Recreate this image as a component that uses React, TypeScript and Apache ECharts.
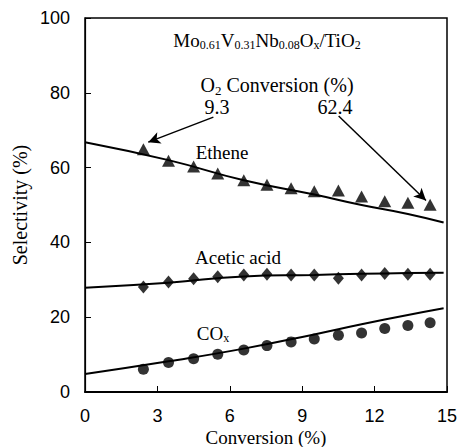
import React, { useEffect, useRef } from "react";
import * as echarts from "echarts";

const convX = [2.42, 3.46, 4.5, 5.5, 6.58, 7.54, 8.54, 9.5, 10.5, 11.46, 12.42, 13.38, 14.3];
const etheneVals = [64.9, 61.8, 60.3, 58.4, 56.6, 55.4, 54.5, 53.7, 53.9, 52.3, 51.0, 50.6, 50.1];
const aceticVals = [28.1, 29.4, 30.3, 30.8, 31.3, 31.5, 31.3, 31.3, 30.4, 31.3, 31.7, 31.5, 31.5];
const coxVals = [6.1, 7.9, 8.9, 10.1, 11.2, 12.4, 13.4, 14.2, 15.2, 15.8, 17.0, 17.8, 18.5];

const fitX = [0, 3.46, 6.58, 9.5, 11.46, 13.38, 14.86];
const etheneFit = [66.8, 62.0, 56.6, 52.8, 50.0, 47.6, 45.3];
const aceticFit = [27.9, 29.2, 30.9, 31.3, 31.6, 31.8, 31.9];
const coxFit = [4.8, 8.2, 11.6, 15.4, 18.1, 20.6, 22.4];

const arrow1 = [[5.32, 73.5], [2.62, 66.8]];
const arrow2 = [[10.51, 73.8], [14.13, 51.2]];

const SERIF = "'Liberation Serif', 'Times New Roman', serif";
const SANS = "'Liberation Sans', Arial, sans-serif";

const zip = (xs: number[], ys: number[]) => xs.map((x, i) => [x, ys[i]]);

export default function App() {
  const ref = useRef<HTMLDivElement>(null);
  useEffect(() => {
    if (!ref.current) return;
    const chart = echarts.init(ref.current, null, { renderer: "svg" });
    const mkRich = (size: number) => ({
      n: { fontFamily: SERIF, fontSize: size, color: "#000" },
      s: { fontFamily: SERIF, fontSize: Math.round(size * 0.65), color: "#000", padding: [Math.round(size * 0.5), 0, 0, 0] },
    });
    const txt = (x: number, y: number, text: string, size = 19) => ({
      type: "text",
      x,
      y,
      style: {
        text,
        fontFamily: SERIF,
        fontSize: size,
        fill: "#000",
        align: "center",
        verticalAlign: "middle",
        rich: mkRich(size),
      },
    });
    chart.setOption({
      animation: false,
      grid: {
        left: 85,
        right: 11,
        top: 18,
        bottom: 55,
        show: true,
        borderColor: "#000",
        borderWidth: 1.5,
        backgroundColor: "transparent",
        containLabel: false,
        outerBoundsMode: "none",
      },
      xAxis: {
        type: "value",
        min: 0,
        max: 15,
        interval: 3,
        name: "Conversion (%)",
        nameLocation: "middle",
        nameGap: 36,
        nameMoveOverlap: false,
        nameTextStyle: { fontFamily: SERIF, fontSize: 19, color: "#000" },
        axisLine: { lineStyle: { color: "#000", width: 1.8 } },
        axisTick: { inside: true, length: 6, lineStyle: { color: "#000" } },
        axisLabel: { fontFamily: SANS, fontSize: 18, color: "#000", margin: 15 },
        splitLine: { show: false },
      },
      yAxis: {
        type: "value",
        min: 0,
        max: 100,
        interval: 20,
        name: "Selectivity (%)",
        nameLocation: "middle",
        nameGap: 55,
        nameMoveOverlap: false,
        nameTextStyle: { fontFamily: SERIF, fontSize: 20, color: "#000" },
        axisLine: { show: true, lineStyle: { color: "#000", width: 1.2 } },
        axisTick: { show: true, inside: true, length: 6, lineStyle: { color: "#000" } },
        axisLabel: { fontFamily: SANS, fontSize: 18, color: "#000", margin: 15 },
        splitLine: { show: false },
      },
      series: [
        {
          type: "line",
          data: zip(fitX, etheneFit),
          smooth: true,
          showSymbol: false,
          lineStyle: { color: "#000", width: 2 },
          markLine: {
            silent: true,
            symbol: ["none", "arrow"],
            symbolSize: [9, 12],
            label: { show: false },
            lineStyle: { color: "#000", width: 1.5, type: "solid" },
            data: [
              [{ coord: arrow1[0] }, { coord: arrow1[1] }],
              [{ coord: arrow2[0] }, { coord: arrow2[1] }],
            ],
          },
        },
        {
          type: "line",
          data: zip(fitX, aceticFit),
          smooth: true,
          showSymbol: false,
          lineStyle: { color: "#000", width: 2 },
        },
        {
          type: "line",
          data: zip(fitX, coxFit),
          smooth: true,
          showSymbol: false,
          lineStyle: { color: "#000", width: 2 },
        },
        {
          type: "scatter",
          data: zip(convX, etheneVals),
          symbol: "triangle",
          symbolSize: [13, 12],
          itemStyle: { color: "#000" },
        },
        {
          type: "scatter",
          data: zip(convX, aceticVals),
          symbol: "diamond",
          symbolSize: [11, 13],
          itemStyle: { color: "#000" },
        },
        {
          type: "scatter",
          data: zip(convX, coxVals),
          symbol: "circle",
          symbolSize: 11,
          itemStyle: { color: "#000" },
        },
      ],
      graphic: [
        txt(267, 40, "{n|Mo}{s|0.61}{n|V}{s|0.31}{n|Nb}{s|0.08}{n|O}{s|x}{n|/TiO}{s|2}", 19),
        txt(277, 85, "{n|O}{s|2}{n| Conversion (%)}", 20),
        txt(217, 107, "9.3", 20),
        txt(335, 107, "62.4", 20),
        txt(222, 152, "Ethene", 19),
        txt(238, 257, "Acetic acid", 19),
        txt(213, 333, "{n|CO}{s|x}", 19),
      ],
    });
    return () => chart.dispose();
  }, []);
  return <div ref={ref} style={{ position: "absolute", left: 0, top: 0, width: 458, height: 447 }} />;
}
